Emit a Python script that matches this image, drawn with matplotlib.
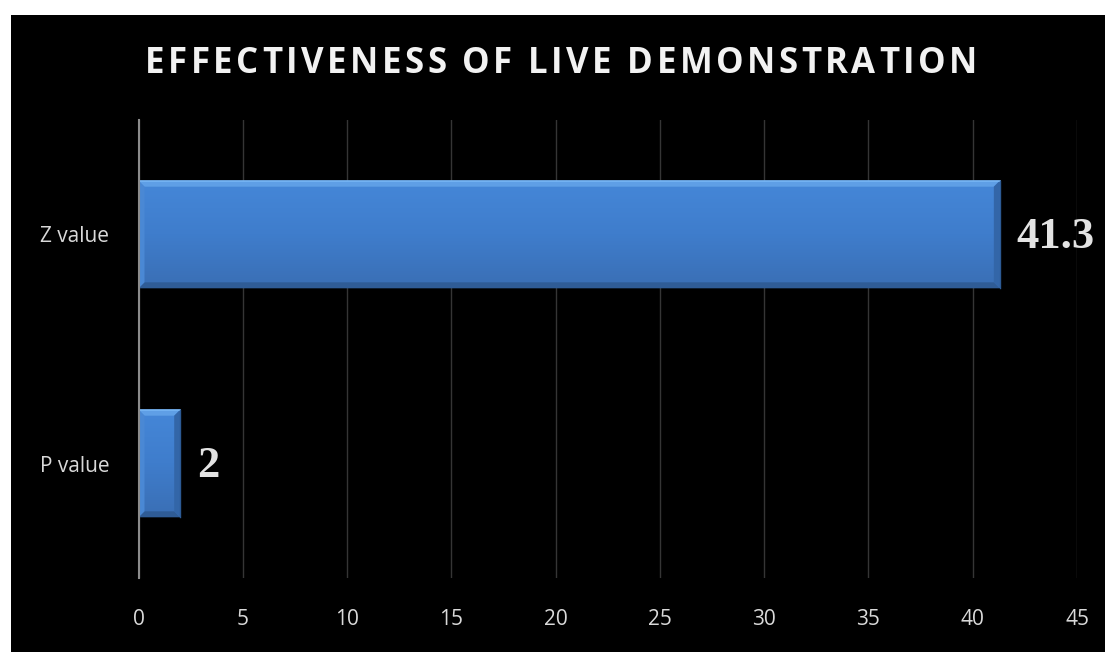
import matplotlib.pyplot as plt
import numpy as np
from matplotlib.colors import LinearSegmentedColormap
from matplotlib.patches import Polygon, Rectangle

# valores de la prueba
categorias = ['P value', 'Z value']
valores = [2, 41.3]
ticks_x = [0, 5, 10, 15, 20, 25, 30, 35, 40, 45]

TITULO = 'EFFECTIVENESS OF LIVE DEMONSTRATION'

fig = plt.figure(figsize=(11.05, 6.52), dpi=100, facecolor='white')
# fondo negro con el borde blanco arriba y a la izquierda
fig.patches.append(Rectangle((11 / 1105, 0), 1, 1 - 15 / 652, transform=fig.transFigure,
                             facecolor='black', edgecolor='none', zorder=-10))

ax = fig.add_axes([138.5 / 1105, 1 - 578 / 652, (1077 - 138.5) / 1105, (578 - 120) / 652])
ax.set_facecolor('black')
ax.set_xlim(0, 45)
ax.set_ylim(-0.5, 1.5)

for s in ['top', 'right', 'bottom']:
    ax.spines[s].set_visible(False)
ax.spines['left'].set_color('#8c8c8c')
ax.spines['left'].set_linewidth(1.5)
ax.spines['left'].set_zorder(5)

ax.set_xticks(ticks_x)
ax.set_xticklabels([str(t) for t in ticks_x], fontsize=15, color='#d9d9d9', family='Open Sans')
ax.tick_params(axis='x', length=0, pad=22)
ax.set_yticks(range(len(categorias)))
ax.set_yticklabels(categorias, fontsize=15, color='#d9d9d9', family='Open Sans')
ax.tick_params(axis='y', length=0, pad=21)
ax.grid(axis='x', color='#353535', linewidth=1.0)
ax.set_axisbelow(True)

alto = 0.47
barras = ax.barh(range(len(categorias)), valores, height=alto, color='#3f7fd0', zorder=2)

# bisel de las barras (6 px convertidos a unidades de datos)
px_x = 45 / ((1077 - 138.5))
px_y = 2 / (578 - 120)
bx, by = 6 * px_x, 6 * px_y
cmap_barra = LinearSegmentedColormap.from_list('b', ['#3a6fb5', '#3f7dcc', '#4587d8'])

for i, v in enumerate(valores):
    y0, y1 = i - alto / 2, i + alto / 2
    # degradado vertical
    grad = np.linspace(0, 1, 50).reshape(-1, 1)
    img = ax.imshow(grad, extent=[0, v, y0, y1], origin='lower', aspect='auto',
                    cmap=cmap_barra, zorder=2.1)
    img.set_clip_path(barras[i])
    caras = [
        ([(0, y1), (v, y1), (v - bx, y1 - by), (bx, y1 - by)], '#5f9fe6'),
        ([(0, y0), (v, y0), (v - bx, y0 + by), (bx, y0 + by)], '#2f5c96'),
        ([(0, y0), (0, y1), (bx, y1 - by), (bx, y0 + by)], '#4a88d4'),
        ([(v, y0), (v, y1), (v - bx, y1 - by), (v - bx, y0 + by)], '#3366a8'),
    ]
    for pts, c in caras:
        ax.add_patch(Polygon(pts, closed=True, facecolor=c, edgecolor='none', zorder=2.2))
    ax.plot([0, v], [y1, y1], color='#78b6f5', linewidth=1.2, zorder=2.3)
    ax.plot([v, v], [y0, y1], color='#2c5a94', linewidth=1, zorder=2.3)

    etiqueta = f'{v:g}'
    ax.annotate(etiqueta, (v, i), xytext=(12, -2), textcoords='offset points',
                ha='left', va='center', fontsize=32, fontweight='bold',
                family='Liberation Serif', color='#e3e3e3', zorder=4)

# titulo con espaciado entre letras
renderer = fig.canvas.get_renderer()
estilo = dict(fontsize=25, fontweight='bold', family='Open Sans', color='#f2f2f2', va='center')
extra = 3.5  # px entre letras
anchos = []
for ch in TITULO:
    t = fig.text(0, 0, ch if ch != ' ' else 'I', **estilo)
    w = t.get_window_extent(renderer).width
    t.remove()
    anchos.append(w * 0.75 if ch == ' ' else w)
total = sum(anchos) + extra * (len(TITULO) - 1)
x = 561 - total / 2
y = 1 - 64 / 652
for ch, w in zip(TITULO, anchos):
    if ch != ' ':
        fig.text(x / 1105, y, ch, ha='left', **estilo)
    x += w + extra

fig.savefig('out.png', dpi=100, facecolor=fig.get_facecolor())
